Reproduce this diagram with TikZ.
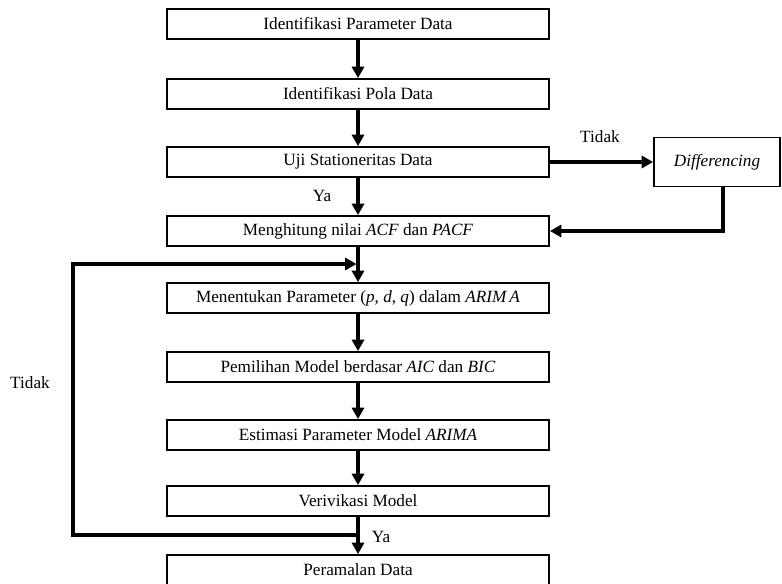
\documentclass[tikz,border=0pt]{standalone}
\usepackage{amsmath}
\usepackage{fontspec}
\setmainfont{Liberation Serif}
\usepackage{tikz}
\usetikzlibrary{arrows.meta}
\tikzstyle{box}=[draw, line width=1.4pt, minimum width=286.5pt, minimum height=22.5pt, inner sep=0pt, font=\fontsize{12.9}{15}\selectfont]
\tikzstyle{boxside}=[draw, line width=1.4pt, minimum width=94.5pt, minimum height=36.75pt, inner sep=0pt, font=\fontsize{12.9}{15}\selectfont]
\tikzstyle{lbl}=[inner sep=0pt, font=\fontsize{12.9}{15}\selectfont]
\tikzstyle{flow}=[-{Triangle[length=8.5pt,width=9pt]}, line width=3pt]
\tikzstyle{line}=[-, line width=3pt]

\begin{document}
\begin{tikzpicture}[x=0.75pt, y=-0.75pt]
		   \useasboundingbox (0,0) rectangle (782,583);
		   \clip (0,0) rectangle (782,583);
		   \begin{scope}
			   \node (1) at (358, 24)[box] {Identifikasi Parameter Data};
			   \node (2) at (358, 94)[box] {Identifikasi Pola Data};
			   \node (3) at (358, 162)[box] {Uji Stationeritas Data};
			   \node (4) at (358, 231)[box] {Menghitung nilai \textit{ACF} dan \textit{PACF}};
			   \node (5) at (358, 298)[box] {Menentukan Parameter (\textit{p}, \textit{d}, \textit{q}) dalam \textit{ARIM\,A}};
			   \node (6) at (358, 367)[box] {Pemilihan Model berdasar \textit{AIC} dan \textit{BIC}};
			   \node (7) at (358, 435)[box] {Estimasi Parameter Model \textit{ARIMA}};
			   \node (8) at (358, 501)[box] {Verivikasi Model};
			   \node (9) at (358, 570)[box] {Peramalan Data};
			   \node (10) at (717, 162)[boxside] {\textit{Differencing}};
			   \coordinate (l1) at (73, 535);
			   \coordinate (l2) at (73, 264);
		   \end{scope}
		   \begin{scope}
			   \node at (600, 137)[lbl] {Tidak};
			   \node at (322, 196)[lbl] {Ya};
			   \node at (381, 537)[lbl] {Ya};
			   \node at (30, 383)[lbl] {Tidak};
		   \end{scope}
		   \begin{scope}
			   \path [flow] (1) edge (2);
			   \path [flow] (2) edge (3);
			   \path [flow] (3) edge (4);
			   \path [flow] (4) edge (5);
			   \path [flow] (5) edge (6);
			   \path [flow] (6) edge (7);
			   \path [flow] (7) edge (8);
			   \path [flow] (8) edge (9);
			   \path [flow] (3) edge (10);
			   \draw [flow] ([xshift=4.5pt]10.south) |- (4.east);
			   \draw [line] (8.south |- l1) -- (l1) -- (l2);
			   \draw [flow, shorten >=1.1pt] ([xshift=-1.5pt]l2) -- (5.north |- l2);
		   \end{scope}
	   \end{tikzpicture}
\end{document}
